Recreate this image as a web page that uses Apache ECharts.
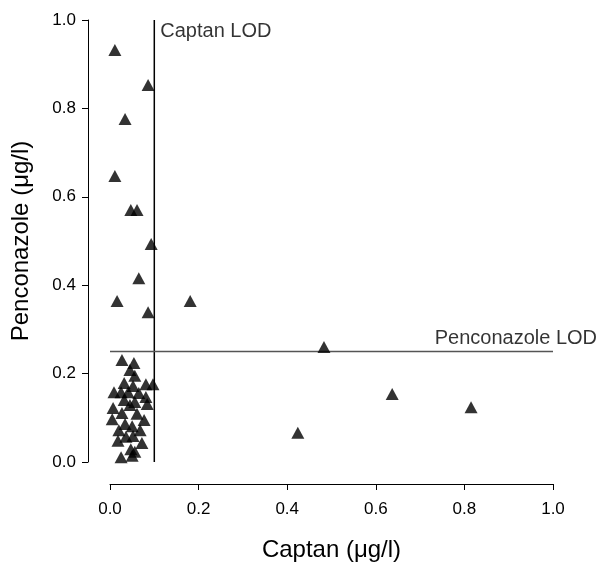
<!DOCTYPE html>
<html>
<head>
<meta charset="utf-8">
<script src="https://cdn.jsdelivr.net/npm/echarts@6/dist/echarts.min.js"></script>
<style>html,body{margin:0;padding:0;background:#fff;}#c{width:601px;height:562px;}</style>
</head>
<body>
<div id="c"></div>
<script>
var captan = [0.011,0.086,0.034,0.011,0.047,0.061,0.093,0.065,0.016,0.181,0.086,0.483,0.637,0.815,0.424,
  0.027,0.054,0.045,0.056,0.032,0.081,0.097,0.052,0.009,0.025,0.041,0.065,0.081,0.032,0.056,0.007,0.045,0.084,
  0.027,0.061,0.005,0.077,0.034,0.050,0.020,0.068,0.036,0.052,0.018,0.072,0.047,0.025,0.050,0.056];
var penconazole = [0.932,0.853,0.776,0.647,0.570,0.570,0.493,0.416,0.364,0.364,0.339,0.260,0.154,0.124,0.066,
  0.231,0.224,0.208,0.195,0.179,0.176,0.176,0.172,0.158,0.158,0.158,0.156,0.147,0.140,0.136,0.122,0.129,0.131,
  0.111,0.109,0.097,0.095,0.086,0.081,0.072,0.072,0.057,0.059,0.048,0.043,0.029,0.011,0.014,0.023];
var xTicks = ['0.0','0.2','0.4','0.6','0.8','1.0'];
var yTicks = ['0.0','0.2','0.4','0.6','0.8','1.0'];
var captanLOD = 0.1;
var penconazoleLOD = 0.25;

var pts = captan.map(function(x,i){return [x, penconazole[i]];});
var font = 'Liberation Sans, Arial, sans-serif';
var chart = echarts.init(document.getElementById('c'));
chart.setOption({
  animation: false,
  backgroundColor: '#fff',
  grid: {left: 110, right: 48, top: 20, bottom: 100, containLabel: false, outerBoundsMode: 'none'},
  xAxis: {
    type: 'value', min: 0, max: 1, interval: 0.2, offset: 22,
    axisLine: {show: true, onZero: false, lineStyle: {color: '#000', width: 1}},
    axisTick: {show: true, length: 6, lineStyle: {color: '#000'}},
    splitLine: {show: false},
    axisLabel: {fontSize: 17, color: '#000', fontFamily: font, margin: 17,
      formatter: function(v){return xTicks[Math.round(v/0.2)];}},
    name: 'Captan (μg/l)', nameLocation: 'middle', nameGap: 54,
    nameTextStyle: {fontSize: 24, color: '#000', fontFamily: font}
  },
  yAxis: {
    type: 'value', min: 0, max: 1, interval: 0.2, offset: 22,
    axisLine: {show: true, onZero: false, lineStyle: {color: '#000', width: 1}},
    axisTick: {show: true, length: 6, lineStyle: {color: '#000'}},
    splitLine: {show: false},
    axisLabel: {fontSize: 17, color: '#000', fontFamily: font, margin: 12,
      formatter: function(v){return yTicks[Math.round(v/0.2)];}},
    name: 'Penconazole (μg/l)', nameLocation: 'middle', nameGap: 55,
    nameTextStyle: {fontSize: 24, color: '#000', fontFamily: font}
  },
  series: [
    {type: 'line', data: [[captanLOD, 0], [captanLOD, 1]], symbol: 'none',
      lineStyle: {color: '#000', width: 1.5}, silent: true, z: 1},
    {type: 'line', data: [[0, penconazoleLOD], [1, penconazoleLOD]], symbol: 'none',
      lineStyle: {color: '#555', width: 1.5}, silent: true, z: 1},
    {type: 'scatter', data: pts, symbol: 'triangle', symbolSize: [13, 12],
      itemStyle: {color: '#000'}, z: 3},
    {type: 'scatter', data: [[captanLOD, 1]], symbolSize: 0, silent: true,
      label: {show: true, formatter: 'Captan LOD', position: 'right', distance: 6, offset: [0, 11],
        fontSize: 20, color: '#000', fontFamily: font}},
    {type: 'scatter', data: [[1, penconazoleLOD]], symbolSize: 0, silent: true,
      label: {show: true, formatter: 'Penconazole LOD', position: 'left', distance: 0, offset: [44, -13],
        fontSize: 20, color: '#000', fontFamily: font}}
  ]
});
</script>
</body>
</html>
